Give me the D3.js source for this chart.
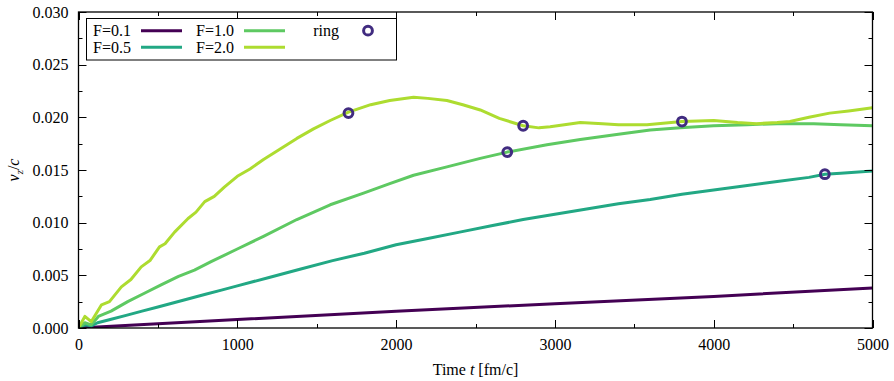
<!DOCTYPE html>
<html><head><meta charset="utf-8">
<script src="https://cdn.jsdelivr.net/npm/d3@7"></script>
<style>
html,body{margin:0;padding:0;background:#fff;}
text{font-family:"Liberation Serif","DejaVu Serif",serif;}
</style></head>
<body><svg id="c" width="894" height="381"></svg>
<script>
// ---- data ----
const seriesNames = ["F=0.1", "F=0.5", "F=1.0", "F=2.0"];
const seriesColors = ["#440154", "#22a884", "#5ec962", "#addc30"];
const t01 = [0, 500, 1000, 2000, 3000, 4000, 5000];
const v01 = [0, 0.0004, 0.0008, 0.0016, 0.0023, 0.0030, 0.0038];
const t05 = [0, 40, 80, 120, 200, 300, 400, 500, 600, 700, 800, 900, 1000, 1200, 1400, 1600, 1800, 2000, 2200, 2400, 2600, 2800, 3000, 3200, 3400, 3600, 3800, 4000, 4200, 4400, 4600, 4700, 4800, 5000];
const v05 = [0, 0.0003, 0.0002, 0.0005, 0.0008, 0.0012, 0.0016, 0.0020, 0.0024, 0.0028, 0.0032, 0.0036, 0.0040, 0.0048, 0.0056, 0.0064, 0.0071, 0.0079, 0.0085, 0.0091, 0.0097, 0.0103, 0.0108, 0.0113, 0.0118, 0.0122, 0.0127, 0.0131, 0.0135, 0.0139, 0.0143, 0.0146, 0.0147, 0.0149];
const t10 = [0, 40, 80, 125, 205, 310, 415, 520, 630, 730, 835, 1000, 1165, 1375, 1585, 1795, 1960, 2110, 2320, 2530, 2700, 2950, 3160, 3400, 3600, 3790, 4000, 4210, 4400, 4630, 4800, 5000];
const v10 = [0, 0.0005, 0.0003, 0.0011, 0.0016, 0.0025, 0.0033, 0.0041, 0.0049, 0.0055, 0.0063, 0.0075, 0.0087, 0.0103, 0.0117, 0.0128, 0.0137, 0.0145, 0.0153, 0.0161, 0.0167, 0.0174, 0.0179, 0.0184, 0.0188, 0.0190, 0.0192, 0.0193, 0.0194, 0.0194, 0.0193, 0.0192];
const t20 = [0, 40, 80, 145, 195, 270, 330, 395, 450, 510, 545, 605, 690, 740, 795, 855, 920, 1000, 1080, 1165, 1270, 1375, 1480, 1585, 1700, 1840, 1960, 2110, 2200, 2320, 2420, 2530, 2650, 2800, 2900, 2970, 3160, 3300, 3400, 3580, 3800, 4000, 4150, 4270, 4400, 4480, 4600, 4730, 4850, 5000];
const v20 = [0, 0.0011, 0.0006, 0.0022, 0.0025, 0.0039, 0.0046, 0.0058, 0.0064, 0.0077, 0.0080, 0.0091, 0.0104, 0.0110, 0.0120, 0.0125, 0.0134, 0.0144, 0.0151, 0.0160, 0.0170, 0.0180, 0.0189, 0.0197, 0.0205, 0.0212, 0.0216, 0.0219, 0.0218, 0.0216, 0.0212, 0.0207, 0.0199, 0.0192, 0.0190, 0.0191, 0.0195, 0.0194, 0.0193, 0.0193, 0.0196, 0.0197, 0.0195, 0.0194, 0.0195, 0.0196, 0.0200, 0.0204, 0.0206, 0.0209];
const ringT = [1700, 2800, 3800, 2700, 4700];
const ringV = [0.0204, 0.0192, 0.0196, 0.0167, 0.0146];
const xTicks = [0, 1000, 2000, 3000, 4000, 5000];
const yTicks = [0, 0.005, 0.010, 0.015, 0.020, 0.025, 0.030];

const seriesT = [t01, t05, t10, t20];
const seriesV = [v01, v05, v10, v20];

// ---- layout ----
const svg = d3.select("#c");
const L = 78.5, R = 872.5, T = 12, B = 328;
const x = d3.scaleLinear().domain([0, 5000]).range([L, R]);
const y = d3.scaleLinear().domain([0, 0.030]).range([B, T]);

svg.append("clipPath").attr("id","clip").append("rect")
  .attr("x", L).attr("y", T).attr("width", R-L).attr("height", B-T);

// lines
const line = d3.line().x(d => x(d[0])).y(d => y(d[1]));
const g = svg.append("g").attr("clip-path","url(#clip)");
seriesT.forEach((ts, i) => {
  const pts = ts.map((t, k) => [t, seriesV[i][k]]);
  g.append("path").datum(pts).attr("d", line)
    .attr("fill","none").attr("stroke", seriesColors[i])
    .attr("stroke-width", 3).attr("stroke-linejoin","round");
});

// rings
const ringColor = "#412c80";
g.selectAll("circle.ring").data(ringT.map((t,i)=>[t, ringV[i]])).enter()
  .append("circle").attr("cx", d=>x(d[0])).attr("cy", d=>y(d[1])).attr("r", 4.4)
  .attr("fill","none").attr("stroke", ringColor).attr("stroke-width", 3);

// axes
function tickAxes() {
  const fmtX = d3.format("d"), fmtY = d3.format(".3f");
  const xMinor = d3.range(0, 5001, 500);
  const yMinor = d3.range(0, 0.0301, 0.0025);
  const bottom = d3.axisBottom(x).tickValues(xTicks).tickSize(0).tickPadding(11).tickFormat(fmtX);
  const left = d3.axisLeft(y).tickValues(yTicks).tickSize(0).tickPadding(10).tickFormat(fmtY);
  const gb = svg.append("g").attr("transform",`translate(0,${B})`).call(bottom);
  const gl = svg.append("g").attr("transform",`translate(${L},0)`).call(left);
  [gb, gl].forEach(a => {
    a.select(".domain").remove();
    a.selectAll("text").attr("font-size", 16).attr("fill","#000")
      .attr("font-family","Liberation Serif, serif");
  });
  const tk = svg.append("g").attr("stroke","#000").attr("stroke-width",1);
  xMinor.forEach(v => {
    const major = Math.abs(v % 1000) < 1e-9;
    const len = major ? 8 : 4;
    const xx = Math.round(x(v)) + 0.5;
    tk.append("line").attr("x1",xx).attr("x2",xx).attr("y1",B).attr("y2",B-len);
    tk.append("line").attr("x1",xx).attr("x2",xx).attr("y1",T).attr("y2",T+len);
  });
  yMinor.forEach((v, i) => {
    const major = i % 2 === 0;
    const len = major ? 8 : 4;
    const yy = Math.round(y(v)) + 0.5;
    tk.append("line").attr("x1",L).attr("x2",L+len).attr("y1",yy).attr("y2",yy);
    tk.append("line").attr("x1",R).attr("x2",R-len).attr("y1",yy).attr("y2",yy);
  });
  svg.append("rect").attr("x",L).attr("y",T).attr("width",R-L).attr("height",B-T)
    .attr("fill","none").attr("stroke","#000").attr("stroke-width",1.3);
}
tickAxes();

// axis titles
const xt = svg.append("text").attr("x", (L+R)/2).attr("y", 375)
  .attr("text-anchor","middle").attr("font-size",16);
xt.append("tspan").text("Time ");
xt.append("tspan").attr("font-style","italic").text("t");
xt.append("tspan").text(" [fm/c]");

const yt = svg.append("text").attr("transform",`translate(19,${(T+B)/2}) rotate(-90)`)
  .attr("text-anchor","middle").attr("font-size",16);
yt.append("tspan").attr("font-style","italic").text("v");
yt.append("tspan").attr("font-style","italic").attr("font-size",11).attr("dy",4).text("z");
yt.append("tspan").attr("dy",-4).text("/");
yt.append("tspan").attr("font-style","italic").text("c");

// legend
const lg = svg.append("g");
lg.append("rect").attr("x",86.5).attr("y",18.5).attr("width",310).attr("height",41.5)
  .attr("fill","#fff").attr("stroke","#000").attr("stroke-width",1);
const legX = [93, 93, 196, 196];
const legY = [30.7, 47.3, 30.7, 47.3];
const sampX = [141, 141, 244, 244];
seriesNames.forEach((n, i) => {
  lg.append("text").attr("x", legX[i]).attr("y", legY[i] + 5.5).attr("font-size",16).text(n);
  lg.append("line").attr("x1", sampX[i]).attr("x2", sampX[i] + 41)
    .attr("y1", legY[i]).attr("y2", legY[i]).attr("stroke", seriesColors[i]).attr("stroke-width",3);
});
lg.append("text").attr("x", 339).attr("y", 36.2).attr("text-anchor","end").attr("font-size",16).text("ring");
lg.append("circle").attr("cx",368).attr("cy",30.7).attr("r",4.4)
  .attr("fill","none").attr("stroke",ringColor).attr("stroke-width",3);
</script></body></html>
